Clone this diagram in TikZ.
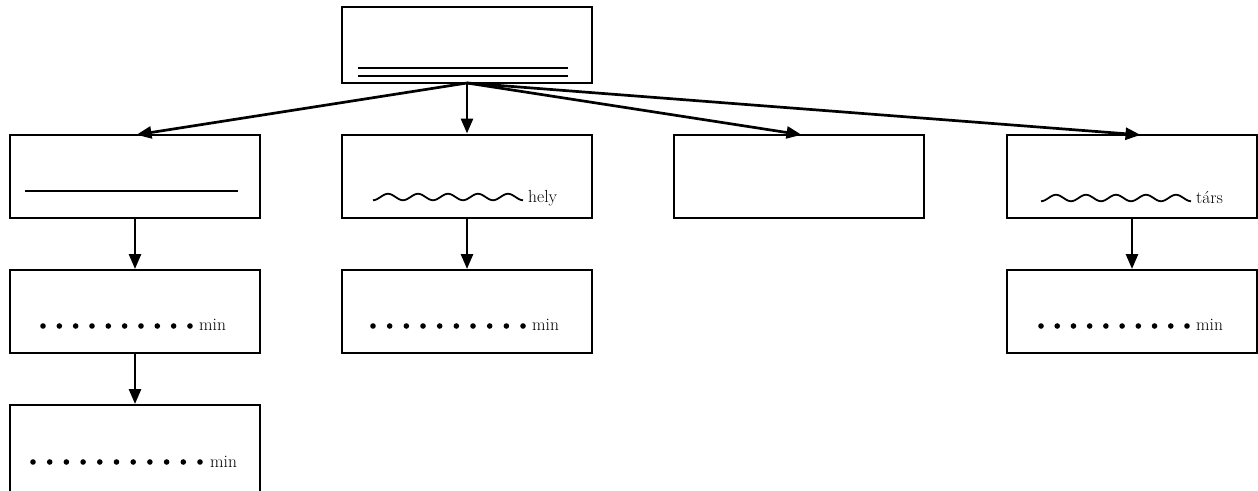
\documentclass[tikz,border=0pt]{standalone}
\usetikzlibrary{arrows.meta}
\begin{document}
\begin{tikzpicture}[x=1pt,y=-1pt,
  box/.style={draw, line width=2.1pt, minimum width=250pt, minimum height=83pt, inner sep=0pt, outer sep=0pt, anchor=north west},
  arr/.style={line width=2.7pt, -{Triangle[length=15pt,width=12pt]}},
  lbl/.style={anchor=base west, inner sep=0pt, font=\fontsize{17.5}{20}\selectfont},
  rule/.style={line width=2.7pt},
  thin/.style={line width=1.5pt},
  wave/.style={line width=1.8pt, line join=round}
]
\path[use as bounding box, clip] (0,0) rectangle (1258,490);

% boxes
\node[box, minimum height=76pt] (top) at (342,7) {};
\node[box] (b1) at (10,135) {};
\node[box] (b2) at (342,135) {};
\node[box] (b3) at (674,135) {};
\node[box] (b4) at (1007,135) {};
\node[box] (c1) at (10,270) {};
\node[box] (c2) at (342,270) {};
\node[box] (c4) at (1007,270) {};
\node[box, minimum height=95pt] (d1) at (10,405) {};

% top box double rule
\draw[rule] (358,68) -- (568,68);
\draw[rule] (358,76) -- (568,76);

% box b1 rule
\draw[thin] (25,191) -- (238,191);

% waves
\draw[wave] plot[domain=0:150, samples=151, smooth] ({373+\x}, {197+3.2*cos(\x*12)});
\draw[wave] plot[domain=0:150, samples=151, smooth] ({1041+\x}, {198+3.2*cos(\x*12)});
\node[lbl] (hely) at (528,202) {hely};
\node[lbl] (tars) at (1196,203) {társ};

% dotted rows
\foreach \i in {0,...,9} \fill (43+\i*16.33,326) circle (2.8pt);
\foreach \i in {0,...,9} \fill (373+\i*16.67,326) circle (2.8pt);
\foreach \i in {0,...,9} \fill (1041+\i*16.22,326) circle (2.8pt);
\foreach \i in {0,...,10} \fill (33+\i*16.7,462) circle (2.8pt);
\node[lbl] (m1) at (199,330) {min};
\node[lbl] (m2) at (532,330) {min};
\node[lbl] (m4) at (1196,330) {min};
\node[lbl] (m5) at (210,467) {min};

% arrows
\draw[arr, shorten >=1.5pt] (top.south) -- (b1.north);
\draw[arr, shorten >=1.5pt] (top.south) -- (b2.north);
\draw[arr, shorten >=1.5pt] (top.south) -- ([xshift=4pt]b3.north);
\draw[arr, shorten >=1.5pt] (top.south) -- ([xshift=10pt]b4.north);
\draw[arr, shorten >=1pt] (b1.south) -- (c1.north);
\draw[arr, shorten >=1pt] (b2.south) -- (c2.north);
\draw[arr, shorten >=1pt] (b4.south) -- (c4.north);
\draw[arr, shorten >=1pt] (c1.south) -- (d1.north);
\end{tikzpicture}
\end{document}
